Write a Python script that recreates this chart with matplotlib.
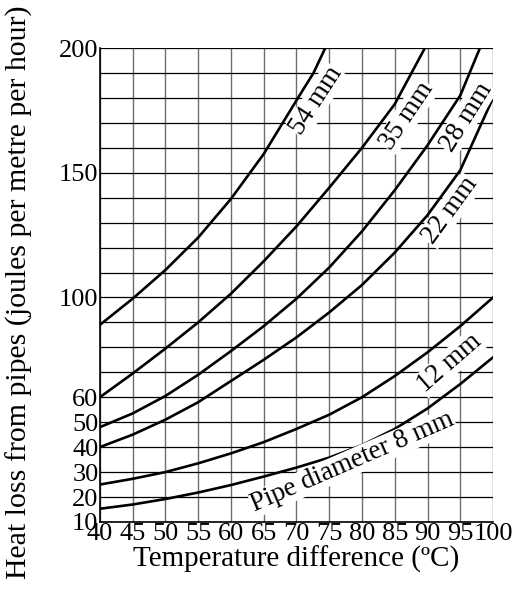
import matplotlib
matplotlib.use("Agg")
import matplotlib.pyplot as plt

plt.rcParams['font.family'] = ['Liberation Serif', 'DejaVu Serif']

# ---- data ----
temps = [40, 45, 50, 55, 60, 65, 70, 75, 80, 85, 90, 95, 100]

t_54 = [40, 45, 50, 55, 60, 65, 70, 72.6, 74.4]
v_54 = [89, 99.5, 111, 124, 139.5, 157.5, 179, 190, 200]

t_35 = [40, 45, 50, 55, 60, 65, 70, 75, 80, 85, 89.6]
v_35 = [60, 69.5, 79.5, 90, 101.5, 114.5, 128.5, 144, 160, 177.5, 200]

t_28 = [40, 45, 50, 55, 60, 65, 70, 75, 80, 85, 90, 95, 98]
v_28 = [48, 53.5, 60.5, 69, 78.5, 88.5, 99.5, 112, 126.5, 143, 161, 181, 200]

v_22 = [40, 45, 51, 58, 66.5, 75, 84, 94, 105, 118, 133, 151, 180]
v_12 = [25, 27.3, 30, 33.5, 37.5, 42, 47.3, 53, 60, 68.5, 78, 88.5, 100]
v_8 = [15.3, 17, 19.2, 21.8, 24.8, 28.2, 31.8, 35.8, 40.8, 47.3, 55.5, 65.3, 76]

x_ticks = list(range(40, 101, 5))
y_ticks = [10, 20, 30, 40, 50, 60, 100, 150, 200]
y_grid = list(range(10, 201, 10))

labels = ["54 mm", "35 mm", "28 mm", "22 mm", "12 mm", "Pipe diameter 8 mm"]

# ---- figure ----
fig = plt.figure(figsize=(5.12, 5.89), dpi=100)
ax = fig.add_axes([0.195, 0.1138, 0.768, 0.8047])
ax.set_xlim(40, 100)
ax.set_ylim(10, 200)

for x in x_ticks:
    ax.axvline(x, color='#6e6e6e', lw=1.0, zorder=1)
for y in y_grid:
    ax.axhline(y, color='black', lw=0.9, zorder=1)

lw = 1.9
ax.plot(t_54, v_54, color='black', lw=lw, zorder=3)
ax.plot(t_35, v_35, color='black', lw=lw, zorder=3)
ax.plot(t_28, v_28, color='black', lw=lw, zorder=3)
ax.plot(temps, v_22, color='black', lw=lw, zorder=3)
ax.plot(temps, v_12, color='black', lw=lw, zorder=3)
ax.plot(temps, v_8, color='black', lw=lw, zorder=3)

lab_pos = [(73.0, 178.8, 57), (86.9, 172.8, 56), (95.9, 172.4, 58),
           (93.4, 134.8, 54), (93.3, 73.6, 41), (78.6, 34.0, 23.5)]
for txt, (x, y, r) in zip(labels, lab_pos):
    ax.text(x, y, txt, rotation=r, ha='center', va='center', fontsize=19.5,
            rotation_mode='anchor', zorder=5,
            bbox=dict(facecolor='white', edgecolor='none', pad=0.3))

ax.set_xticks(x_ticks)
ax.set_yticks(y_ticks)
ax.tick_params(length=0, labelsize=19, pad=1)
for s in ['top', 'right']:
    ax.spines[s].set_visible(False)
for s in ['left', 'bottom']:
    ax.spines[s].set_color('black')
    ax.spines[s].set_linewidth(1.2)

ax.set_xlabel("Temperature difference (ºC)", fontsize=21, labelpad=0)
ax.set_ylabel("Heat loss from pipes (joules per metre per hour)", fontsize=21.5)
ax.yaxis.set_label_coords(-0.17, 0.485)

fig.savefig("out.png", dpi=100)
